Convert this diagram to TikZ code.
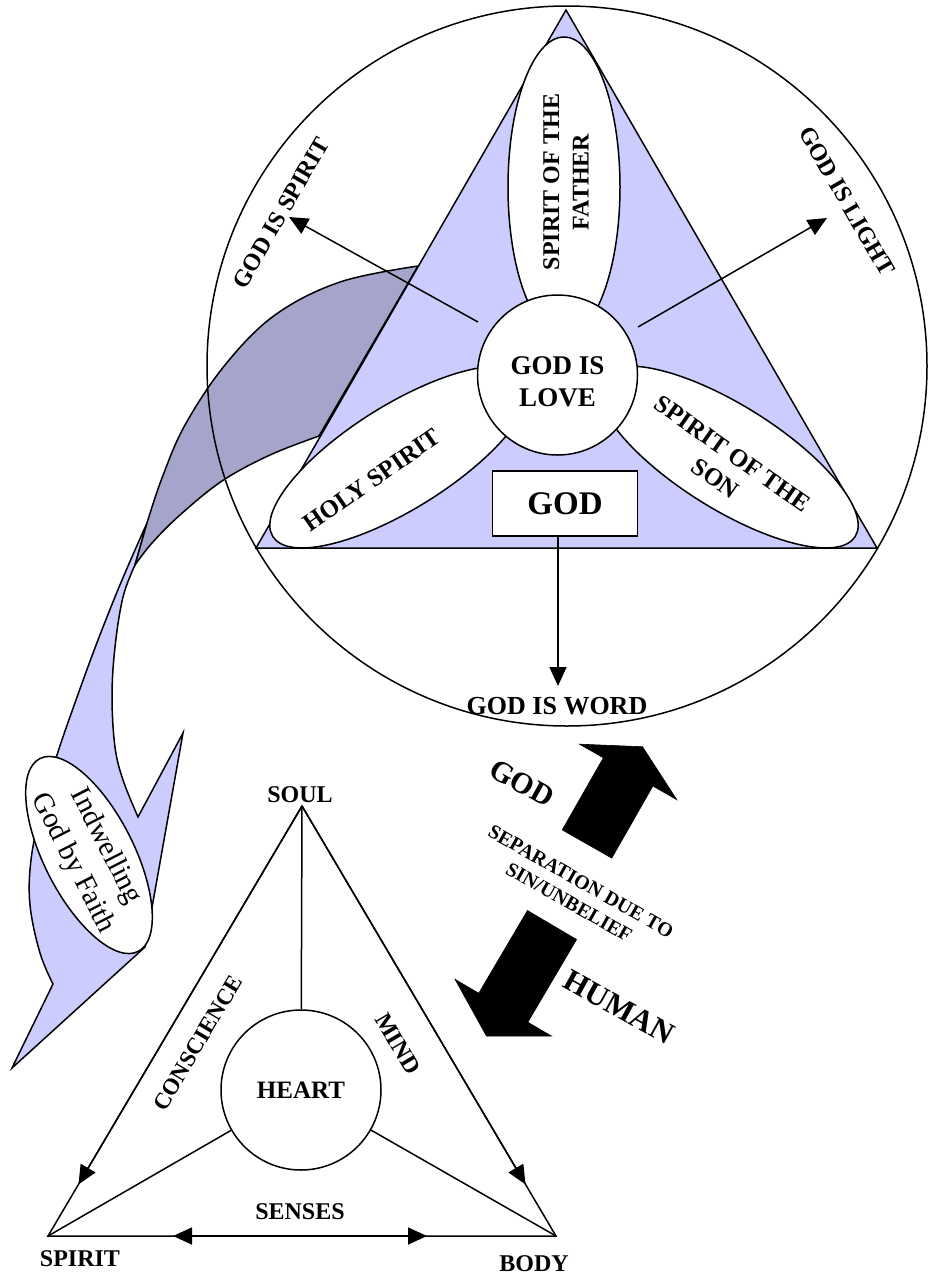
\documentclass[tikz,border=0pt]{standalone}
\usepackage{fontspec}
\setmainfont{Liberation Serif}
\usetikzlibrary{shapes.geometric,arrows.meta,calc}
\definecolor{lavL}{RGB}{204,204,255}
\definecolor{lavD}{RGB}{165,165,204}
\newcommand\myfs[2]{\fontsize{#1}{#2}\selectfont}
\begin{document}
\begin{tikzpicture}[x=1pt,y=-1pt,line width=1.5pt,
  arr/.style={-{Triangle[length=19pt,width=17pt]}},
  petal/.style={ellipse,draw,fill=white,inner sep=0pt},
  lbl/.style={font=\myfs{24}{29}\bfseries,inner sep=0pt},
  lblb/.style={font=\myfs{26}{31}\bfseries,inner sep=0pt},
  blockarrow/.style={fill=black,draw=black,line width=0.6pt}]
\useasboundingbox (0,0) rectangle (928,1275);

% ---------- ribbon (Indwelling arrow) ----------
\coordinate (rP) at (147,523);
\coordinate (rQ) at (135,565);
\coordinate (rtip) at (12,1068);
\coordinate (rcorner) at (145,947);
\coordinate (rbarb) at (183,733);
\coordinate (rnotchR) at (138,817);
\filldraw[fill=lavL] (rP) -- plot[smooth,tension=0.6] coordinates {(147,523) (122,580) (98,640) (76,700) (57,755) (41,810) (31,860) (30,905) (40,953) (53,984)}
  -- (rtip) -- (rcorner) -- (rbarb) -- (rnotchR)
  -- plot[smooth,tension=0.6] coordinates {(138,817) (123,780) (115,747) (112,697) (115,647) (123,597) (135,565)} -- (rP) -- cycle;
\filldraw[fill=lavD] plot[smooth,tension=0.6] coordinates {(418,266) (340,282) (275,315) (225,365) (185,425) (162,478) (147,523)}
  -- (rQ) -- plot[smooth,tension=0.6] coordinates {(135,565) (152,543) (180,515) (222,481) (270,455) (319,436)} -- cycle;
\node[ellipse,draw,fill=white,minimum width=198pt,minimum height=84pt,inner sep=0pt,rotate=-63,
  align=center,font=\myfs{29}{37}] (indw) at (89,855) {Indwelling\\God by Faith};

% ---------- top: circle and triangle ----------
\node[circle,draw,minimum size=720pt,inner sep=0pt] (outer) at (567,366) {};
\coordinate (tA) at (566,10);
\coordinate (tL) at (256,548);
\coordinate (tR) at (877,548);
\filldraw[fill=lavL] (tA) -- (tL) -- (tR) -- cycle;

\node[petal,minimum width=300pt,minimum height=112pt,rotate=90] (pfather) at (564,187) {};
\node[petal,minimum width=300pt,minimum height=104pt,rotate=32] (pholy) at (400,457) {};
\node[petal,minimum width=300pt,minimum height=104pt,rotate=-32] (pson) at (728,457) {};
\node[circle,draw,fill=white,minimum size=160pt,inner sep=0pt] (love) at (557.5,375) {};
\node[lblb,align=center,font=\myfs{27}{32}\bfseries] (lovetxt) at (557.5,382) {GOD IS\\LOVE};

\node[lbl,rotate=90,align=center,font=\myfs{24}{29.5}\bfseries] (tfather) at (566,182) {SPIRIT OF THE\\FATHER};
\node[lbl,rotate=35,font=\myfs{25}{30}\bfseries] (tholy) at (372,480) {HOLY SPIRIT};
\node[lbl,rotate=-35,align=center,font=\myfs{25}{30}\bfseries] (tson) at (724,466) {SPIRIT OF THE\\SON};

\node[draw,fill=white,minimum width=145pt,minimum height=65pt,inner sep=0pt,font=\myfs{33}{40}\bfseries] (god) at (565,503.5) {GOD};

\coordinate (spiritS) at (478,322);
\coordinate (spiritT) at (289,217);
\coordinate (lightS) at (638,327);
\coordinate (lightT) at (827,218);
\coordinate (wordT) at (558,686);
\draw[arr] (spiritS) -- (spiritT);
\draw[arr] (lightS) -- (lightT);
\draw[arr] (god.south -| wordT) -- (wordT);

\node[lbl,rotate=60] (lspirit) at (281,213) {GOD IS SPIRIT};
\node[lbl,rotate=-60] (llight) at (847,201) {GOD IS LIGHT};
\node[lblb] (lword) at (557,706) {GOD IS WORD};

% ---------- separation arrows ----------
\begin{scope}[shift={(587,844)},rotate=60.3]
  \filldraw[blockarrow] (0,-28.5) -- (83,-28.5) -- (83,-56) -- (112,0) -- (83,56) -- (83,28.5) -- (0,28.5) -- cycle;
\end{scope}
\begin{scope}[shift={(552,925)},rotate=239.5]
  \filldraw[blockarrow] (0,-28.5) -- (96,-28.5) -- (96,-56) -- (129,0) -- (96,56) -- (96,28.5) -- (0,28.5) -- cycle;
\end{scope}
\node[lbl,rotate=-29,font=\myfs{30}{36}\bfseries] (lgod) at (522,783) {GOD};
\node[lbl,rotate=-29,font=\myfs{31}{36}\bfseries] (lhuman) at (619,1007) {HUMAN};
\node[lbl,rotate=-29.5,align=center,font=\myfs{20}{24}\bfseries] (lsep) at (575,892) {SEPARATION DUE TO\\SIN/UNBELIEF};

% ---------- lower triangle ----------
\coordinate (soul) at (302,806);
\coordinate (spiritv) at (48,1236);
\coordinate (bodyv) at (556,1236);
\node[circle,draw,minimum size=160pt,inner sep=0pt,font=\myfs{25}{30}\bfseries] (heart) at (301,1090) {HEART};
\draw (soul) -- (spiritv) -- (bodyv) -- cycle;
\draw (soul) -- (heart);
\draw (heart) -- (spiritv);
\draw (heart) -- (bodyv);
\draw[arr] (soul) -- ($(soul)!0.88!(spiritv)$);
\draw[arr] (soul) -- ($(soul)!0.88!(bodyv)$);
\coordinate (sensL) at (173,1236);
\coordinate (sensR) at (427,1236);
\draw[{Triangle[length=19pt,width=17pt]}-{Triangle[length=19pt,width=17pt]}] (sensL) -- (sensR);

\node[lbl] (lsoul) at (300,795) {SOUL};
\node[lbl] (lspiritv) at (80,1259) {SPIRIT};
\node[lbl] (lbody) at (534,1264) {BODY};
\node[lbl] (lsenses) at (300,1212) {SENSES};
\node[lbl,rotate=59.4,font=\myfs{23}{28}\bfseries] (lcons) at (198,1043) {CONSCIENCE};
\node[lbl,rotate=-59.4] (lmind) at (398,1044) {MIND};
\end{tikzpicture}
\end{document}
